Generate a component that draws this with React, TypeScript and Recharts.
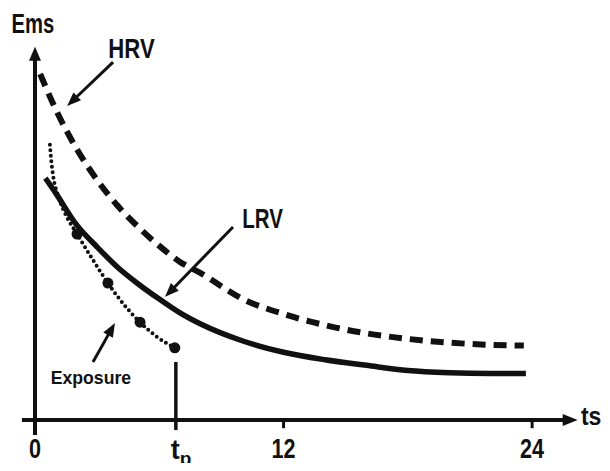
import { ComposedChart, Line, Scatter, XAxis, YAxis, ReferenceLine, ReferenceDot } from "recharts";

// time axis (ts) and the time of the last exposure sample
const TP = 6.8;
const X_TICKS = [0, TP, 12, 24];
const X_TICK_LABELS = ["0", "tp", "12", "24"];

// HRV (dashed) curve
const HRV_T = [0.25, 1, 2, 3, 4, 5, 6, 7, 8, 10, 12, 14, 16, 18, 20, 22, 23.6];
const HRV_V = [93, 83.5, 73, 64.5, 57.5, 51.8, 46.8, 42.5, 39.5, 32.6, 28.5, 25.5, 23.3, 21.8, 20.8, 20.2, 20];

// LRV (solid) curve
const LRV_T = [0.5, 1, 2, 3, 4, 5, 6, 7, 8, 10, 12, 14, 16, 18, 20, 22, 23.7];
const LRV_V = [65, 61, 52.5, 46.5, 41, 36.5, 32.5, 28.8, 25.8, 21.3, 18.2, 16.2, 14.7, 13.3, 12.7, 12.5, 12.5];

// exposure (dotted) curve and its measured points
const EXPO_T = [0.72, 0.78, 0.88, 1.1, 1.5, 2.03, 2.8, 3.52, 4.3, 5.07, 5.9, 6.75];
const EXPO_V = [74, 70, 65.5, 60.5, 55, 50, 43, 36.8, 31, 26.3, 22.3, 19.4];
const MARK_T = [2.03, 3.52, 5.07, 6.75];
const MARK_V = [50, 36.8, 26.3, 19.4];

const hrv = HRV_T.map((t, i) => ({ t, v: HRV_V[i] }));
const lrv = LRV_T.map((t, i) => ({ t, v: LRV_V[i] }));
const expo = EXPO_T.map((t, i) => ({ t, v: EXPO_V[i] }));
const marks = MARK_T.map((t, i) => ({ t, v: MARK_V[i] }));

const INK = "#111";
const FONT = "'Liberation Sans', Arial, sans-serif";

const X_DOMAIN: [number, number] = [-1.69, 27.76];
const Y_DOMAIN: [number, number] = [-4.03, 112.9];

// annotation labels: text, anchor point (t, v), font size, horizontal squeeze
const LABELS = [
  { text: "Ems", t: -0.1, v: 104, size: 27, sx: 0.75 },
  { text: "HRV", t: 4.66, v: 97.3, size: 27, sx: 0.82 },
  { text: "LRV", t: 10.99, v: 51.6, size: 27, sx: 0.76 },
  { text: "Exposure", t: 2.7, v: 9.7, size: 18, sx: 0.98 },
  { text: "ts", t: 26.85, v: -1.3, size: 25, sx: 0.92 },
];

// pointer arrows from label to curve
const POINTERS = [
  { from: [3.77, 96.2], to: [1.55, 84.4] },
  { from: [9.56, 51.9], to: [6.28, 33.1] },
  { from: [2.8, 15.6], to: [3.86, 26.1] },
];

function arrowShape(head: number, half: number) {
  return (p: any) => {
    const { x1, y1, x2, y2, strokeWidth } = p;
    const dx = x2 - x1;
    const dy = y2 - y1;
    const len = Math.hypot(dx, dy) || 1;
    const ux = dx / len;
    const uy = dy / len;
    const bx = x2 - ux * head;
    const by = y2 - uy * head;
    const nx = -uy;
    const ny = ux;
    return (
      <g>
        <line x1={x1} y1={y1} x2={bx + ux * 2} y2={by + uy * 2} stroke={INK} strokeWidth={strokeWidth} />
        <polygon
          points={`${x2},${y2} ${bx + nx * half},${by + ny * half} ${bx - nx * half},${by - ny * half}`}
          fill={INK}
        />
      </g>
    );
  };
}

function labelShape(text: string, size: number, sx: number) {
  return (p: any) => (
    <text
      transform={`translate(${p.cx},${p.cy}) scale(${sx},1)`}
      textAnchor="middle"
      fontFamily={FONT}
      fontWeight="bold"
      fontSize={size}
      fill={INK}
    >
      {text}
    </text>
  );
}

function XTick({ x, y, payload }: any) {
  const label = X_TICK_LABELS[X_TICKS.indexOf(payload.value)];
  if (label === "tp") {
    return (
      <text x={x - 5} y={y + 16} fontFamily={FONT} fontWeight="bold" fontSize={27} fill={INK}>
        t
        <tspan dy={6} fontSize={19}>
          p
        </tspan>
      </text>
    );
  }
  return (
    <text
      transform={`translate(${x},${y + 15}) scale(0.8,1)`}
      textAnchor="middle"
      fontFamily={FONT}
      fontWeight="bold"
      fontSize={27}
      fill={INK}
    >
      {label}
    </text>
  );
}

export default function App() {
  return (
    <div style={{ background: "#fff", width: 610, height: 471, margin: -8 }}>
      <ComposedChart width={610} height={471} margin={{ top: 0, right: 0, bottom: 0, left: 0 }}>
        <XAxis
          type="number"
          dataKey="t"
          domain={X_DOMAIN}
          ticks={X_TICKS}
          interval={0}
          allowDataOverflow
          axisLine={false}
          tickLine={false}
          height={36}
          tick={<XTick />}
        />
        <YAxis type="number" dataKey="v" domain={Y_DOMAIN} allowDataOverflow hide />

        {/* axes */}
        <ReferenceLine
          segment={[{ x: -0.63, y: 0 }, { x: 26.2, y: 0 }]}
          strokeWidth={4}
          shape={arrowShape(15, 6)}
        />
        <ReferenceLine
          segment={[{ x: 0, y: -4 }, { x: 0, y: 100.3 }]}
          strokeWidth={4}
          shape={arrowShape(14, 6)}
        />
        <ReferenceLine segment={[{ x: 12, y: 0 }, { x: 12, y: -2.2 }]} stroke={INK} strokeWidth={3} />
        <ReferenceLine segment={[{ x: 24, y: 0 }, { x: 24, y: -2.2 }]} stroke={INK} strokeWidth={3} />
        <ReferenceLine segment={[{ x: TP, y: -2.7 }, { x: TP, y: 15.6 }]} stroke={INK} strokeWidth={3.5} />

        <Line
          data={hrv}
          dataKey="v"
          type="monotone"
          stroke={INK}
          strokeWidth={6}
          strokeDasharray="13 8"
          dot={false}
          isAnimationActive={false}
        />
        <Line
          data={lrv}
          dataKey="v"
          type="monotone"
          stroke={INK}
          strokeWidth={5.5}
          dot={false}
          isAnimationActive={false}
        />
        <Line
          data={expo}
          dataKey="v"
          type="monotone"
          stroke={INK}
          strokeWidth={4}
          strokeLinecap="round"
          strokeDasharray="0 5.5"
          dot={false}
          isAnimationActive={false}
        />
        <Scatter
          data={marks}
          dataKey="v"
          fill={INK}
          isAnimationActive={false}
          shape={(p: any) => <circle cx={p.cx} cy={p.cy} r={5.5} fill={INK} />}
        />

        {POINTERS.map((a, i) => (
          <ReferenceLine
            key={i}
            segment={[{ x: a.from[0], y: a.from[1] }, { x: a.to[0], y: a.to[1] }]}
            strokeWidth={3}
            shape={arrowShape(14, 5.5)}
          />
        ))}
        {LABELS.map((l) => (
          <ReferenceDot key={l.text} x={l.t} y={l.v} r={1} shape={labelShape(l.text, l.size, l.sx)} />
        ))}
      </ComposedChart>
    </div>
  );
}
